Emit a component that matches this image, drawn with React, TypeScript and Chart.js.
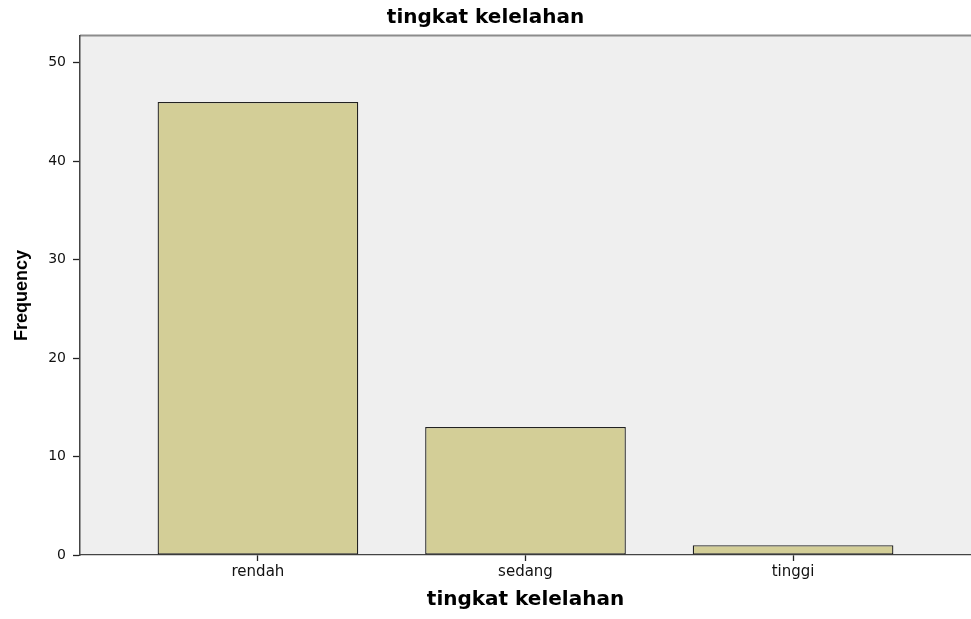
import React, { useEffect, useRef } from "react";
import { Chart, registerables } from "chart.js";

Chart.register(...registerables);

const categories: string[] = ["rendah", "sedang", "tinggi"];
const frequencies: number[] = [46, 13, 1];
const yTicks: number[] = [0, 10, 20, 30, 40, 50];

const chartTitle = "tingkat kelelahan";
const xTitle = "tingkat kelelahan";
const yTitle = "Frequency";

const plotBgPlugin = {
  id: "plotBg",
  beforeDraw(chart: any) {
    const { ctx, chartArea: a } = chart;
    ctx.save();
    ctx.fillStyle = "#efefef";
    ctx.fillRect(a.left, a.top, a.right - a.left, a.bottom - a.top);
    ctx.strokeStyle = "#8c8c8c";
    ctx.lineWidth = 2;
    ctx.beginPath();
    ctx.moveTo(a.left, a.top - 0.5);
    ctx.lineTo(a.right, a.top - 0.5);
    ctx.stroke();
    ctx.restore();
  },
};

export default function App() {
  const ref = useRef<HTMLCanvasElement | null>(null);

  useEffect(() => {
    if (!ref.current) return;
    const chart = new Chart(ref.current, {
      type: "bar",
      data: {
        datasets: [
          {
            label: yTitle,
            data: categories.map((c, i) => ({ x: i + 1, y: frequencies[i] })),
            backgroundColor: "#d3ce97",
            borderColor: "#222",
            borderWidth: 1.3,
            borderSkipped: false,
            barPercentage: 0.75,
            categoryPercentage: 1,
          },
        ],
      },
      options: {
        responsive: false,
        animation: false,
        devicePixelRatio: 1,
        layout: { padding: 0 },
        plugins: {
          legend: { display: false },
          tooltip: { enabled: false },
          title: {
            display: true,
            text: chartTitle,
            color: "#000",
            font: { family: "'DejaVu Sans', sans-serif", size: 20, weight: "bold", lineHeight: 1.2 },
            padding: { top: 6, bottom: 6 },
          },
        },
        scales: {
          x: {
            type: "linear",
            min: 0.335,
            max: 3.665,
            offset: false,
            afterBuildTicks(scale: any) {
              scale.ticks = categories.map((c, i) => ({ value: i + 1 }));
            },
            afterFit(scale: any) {
              scale.height = 64;
            },
            grid: {
              display: true,
              offset: false,
              drawOnChartArea: false,
              drawTicks: true,
              tickLength: 6,
              tickColor: "#222",
              tickWidth: 1.3,
            },
            border: { display: true, color: "#444", width: 1.3 },
            ticks: {
              color: "#111",
              padding: 2,
              maxRotation: 0,
              autoSkip: false,
              font: { family: "'DejaVu Sans', sans-serif", size: 15 },
              callback: (v: any) => categories[Number(v) - 1] ?? "",
            },
            title: {
              display: true,
              text: xTitle,
              color: "#000",
              font: { family: "'DejaVu Sans', sans-serif", size: 20, weight: "bold", lineHeight: 1.2 },
              padding: { top: 0, bottom: 7 },
            },
          },
          y: {
            type: "linear",
            min: 0,
            max: 52.7,
            afterBuildTicks(scale: any) {
              scale.ticks = yTicks.map((v) => ({ value: v }));
            },
            afterFit(scale: any) {
              scale.width = 80;
            },
            grid: {
              display: true,
              drawOnChartArea: false,
              drawTicks: true,
              tickLength: 7,
              tickColor: "#222",
              tickWidth: 1.3,
            },
            border: { display: true, color: "#444", width: 1.5 },
            ticks: {
              color: "#111",
              padding: 7,
              font: { family: "'DejaVu Sans', sans-serif", size: 14 },
            },
            title: {
              display: true,
              text: yTitle,
              color: "#000",
              font: { family: "'Liberation Sans', Arial, sans-serif", size: 18, weight: "bold", lineHeight: 1.2 },
              padding: { top: 11, bottom: 0 },
            },
          },
        },
      },
      plugins: [plotBgPlugin],
    } as any);
    return () => chart.destroy();
  }, []);

  return (
    <div style={{ position: "absolute", left: 0, top: 0, width: 971, height: 619, background: "#fff" }}>
      <canvas ref={ref} width={971} height={619} style={{ display: "block" }} />
    </div>
  );
}
